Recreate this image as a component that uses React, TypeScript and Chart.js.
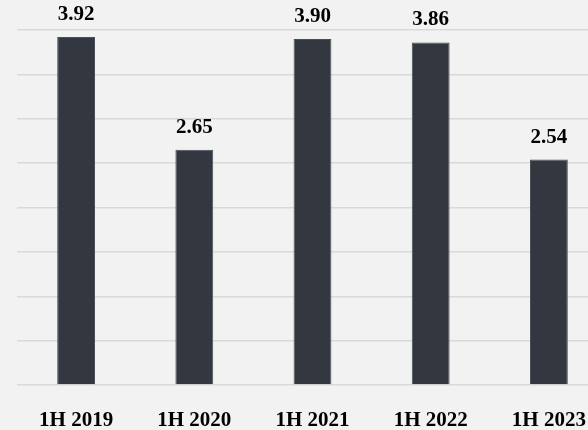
import React, { useEffect, useRef } from "react";
import { Chart, registerables } from "chart.js";

Chart.register(...registerables);

const categories = ["1H 2019", "1H 2020", "1H 2021", "1H 2022", "1H 2023"];
const values = [3.92, 2.65, 3.9, 3.86, 2.54];

const FONT = "'Liberation Serif', 'Times New Roman', serif";

const valueLabels = {
  id: "valueLabels",
  afterDatasetsDraw(chart: any) {
    const ctx = chart.ctx;
    const meta = chart.getDatasetMeta(0);
    ctx.save();
    ctx.font = `bold 21px ${FONT}`;
    ctx.fillStyle = "#000000";
    ctx.textAlign = "center";
    ctx.textBaseline = "alphabetic";
    meta.data.forEach((bar: any, i: number) => {
      ctx.fillText(values[i].toFixed(2), bar.x, bar.y - 17);
    });
    ctx.restore();
  },
};

export default function App() {
  const ref = useRef<HTMLCanvasElement>(null);
  useEffect(() => {
    document.body.style.margin = "0";
    const chart = new Chart(ref.current!, {
      type: "bar",
      data: {
        labels: categories,
        datasets: [
          {
            data: values,
            backgroundColor: "#333740",
            borderColor: "#4a4e57",
            borderWidth: 1,
            categoryPercentage: 1,
            barPercentage: 0.32,
          },
        ],
      },
      options: {
        animation: false,
        responsive: false,
        maintainAspectRatio: false,
        layout: { padding: { left: 17, right: 12, top: 30, bottom: 0 } },
        plugins: { legend: { display: false }, tooltip: { enabled: false } },
        scales: {
          x: {
            grid: { display: false, drawTicks: false },
            border: { display: false },
            afterFit: (scale: any) => {
              scale.height = 45;
            },
            ticks: {
              padding: 23,
              color: "#000000",
              font: { family: FONT, size: 21, weight: "bold" },
            },
          },
          y: {
            min: 0,
            max: 4,
            ticks: { display: false, stepSize: 0.5 },
            grid: { color: "#d9d9d9", lineWidth: 1.5, drawTicks: false },
            border: { display: false },
          },
        },
      },
      plugins: [valueLabels],
    });
    return () => chart.destroy();
  }, []);
  return (
    <div
      style={{
        position: "fixed",
        left: 0,
        top: 0,
        width: 588,
        height: 430,
        overflow: "hidden",
        background: "#f2f2f2",
      }}
    >
      <canvas ref={ref} width={620} height={430} style={{ display: "block" }} />
    </div>
  );
}
